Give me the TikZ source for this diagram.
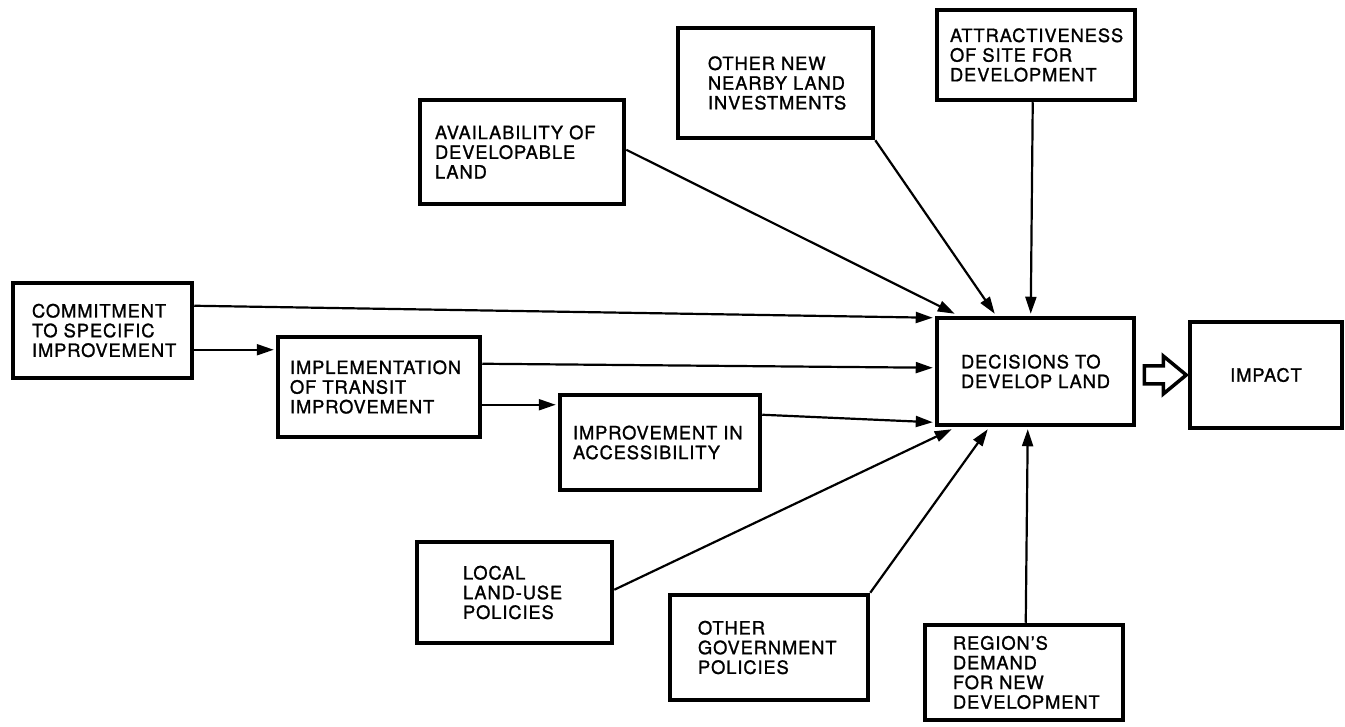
\documentclass[tikz,border=0pt]{standalone}
\usepackage{fontspec}
\newfontfamily\boxfont{TeX Gyre Heros}[LetterSpace=5,FakeBold=1.2]
\usetikzlibrary{arrows.meta,calc}
\begin{document}
\begin{tikzpicture}[x=1pt,y=-1pt,
  box/.style={draw=black,line width=4.5pt,fill=white,inner ysep=0pt,
    font=\boxfont\fontsize{18.3}{19.7}\selectfont,align=left},
  conn/.style={line width=2.2pt,-{Triangle[length=17pt,width=11pt]}}]
\useasboundingbox (0,0) rectangle (1345,727);
\fill[white] (0,0) rectangle (1345,727);

\node[box,minimum width=179pt,minimum height=95pt,text width=141pt,inner xsep=19pt] (comm) at (102.5,330.5)
  {COMMITMENT\\TO~SPECIFIC\\IMPROVEMENT};
\node[box,minimum width=202pt,minimum height=100pt,text width=178pt,inner xsep=12pt] (impl) at (379,387)
  {IMPLEMENTATION\\OF~TRANSIT\\IMPROVEMENT};
\node[box,minimum width=200pt,minimum height=95pt,text width=174pt,inner xsep=13pt] (impr) at (660,442.5)
  {IMPROVEMENT~IN\\ACCESSIBILITY};
\node[box,minimum width=197pt,minimum height=107pt] (dec) at (1035.5,371.5)
  {DECISIONS TO\\DEVELOP LAND};
\node[box,minimum width=152pt,minimum height=106pt] (imp) at (1266,375)
  {IMPACT};
\node[box,minimum width=204pt,minimum height=104pt,text width=174pt,inner xsep=15pt] (avail) at (522,152)
  {AVAILABILITY~OF\\DEVELOPABLE\\LAND};
\node[box,minimum width=195pt,minimum height=110pt,text width=135pt,inner xsep=30pt] (onew) at (775.5,83)
  {OTHER~NEW\\NEARBY~LAND\\INVESTMENTS};
\node[box,minimum width=198pt,minimum height=90pt,text width=172pt,inner xsep=13pt] (attr) at (1036,55)
  {ATTRACTIVENESS\\OF~SITE~FOR\\DEVELOPMENT};
\node[box,minimum width=195pt,minimum height=101pt,text width=103pt,inner xsep=46pt] (local) at (514.5,592.5)
  {LOCAL\\LAND-USE\\POLICIES};
\node[box,minimum width=198pt,minimum height=105pt,text width=142pt,inner xsep=28pt] (ogov) at (769,647.5)
  {OTHER\\GOVERNMENT\\POLICIES};
\node[box,minimum width=198pt,minimum height=95pt,text width=142pt,inner xsep=28pt] (reg) at (1024,672.5)
  {REGION’S\\DEMAND\\FOR~NEW\\DEVELOPMENT};

% connectors
\draw[conn] ($(comm.north east)+(0,25)$) -- ($(dec.north west)+(-2,2)$);
\draw[conn] ($(comm.north east)+(0,69)$) -- ($(impl.north west)+(-2,15)$);
\draw[conn] ($(impl.north east)+(0,29)$) -- ($(dec.north west)+(-2,52)$);
\draw[conn] ($(impl.north east)+(0,70)$) -- ($(impr.north west)+(-2,12)$);
\draw[conn] ($(impr.north east)+(0,22)$) -- ($(dec.south west)+(-2,-5)$);
\draw[conn] ($(avail.north east)+(0,52)$) -- ($(dec.north west)+(20,-2)$);
\draw[conn] (onew.south east) -- ($(dec.north west)+(60,-2)$);
\draw[conn] ($(attr.south west)+(98,0)$) -- ($(dec.north west)+(96,-2)$);
\draw[conn] ($(local.north east)+(0,50)$) -- ($(dec.south west)+(17,2)$);
\draw[conn] (ogov.north east) -- ($(dec.south west)+(53,2)$);
\draw[conn] ($(reg.north west)+(103,0)$) -- ($(dec.south west)+(93,2)$);

% hollow arrow
\coordinate (ha) at ($(dec.east)+(8,3.5)$);
\draw[line width=3.5pt,fill=white,line join=miter,shift={(ha)}]
  (0,-9) -- (19,-9) -- (19,-19) -- (42,0) -- (19,19) -- (19,9) -- (0,9) -- cycle;
\end{tikzpicture}
\end{document}
